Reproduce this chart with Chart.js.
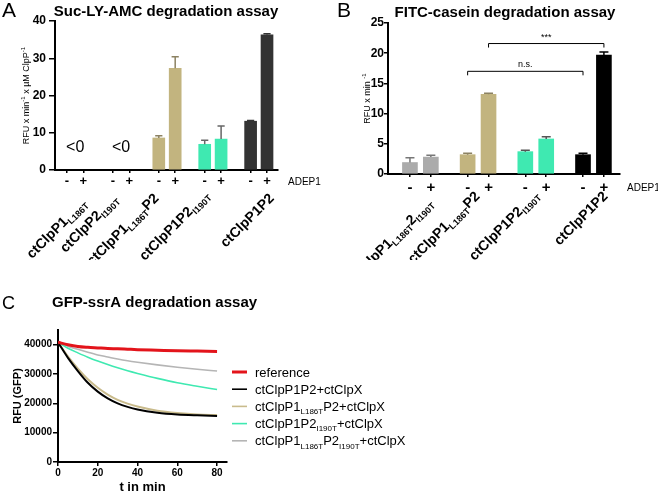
<!DOCTYPE html>
<html>
<head>
<meta charset="utf-8">
<script src="https://cdn.jsdelivr.net/npm/chart.js@4"></script>
<style>
  body { margin: 0; background: #fff; width: 658px; height: 492px; position: relative; overflow: hidden; }
  canvas { position: absolute; }
</style>
</head>
<body>
<canvas id="chartA" width="330" height="260" style="left:0;top:0"></canvas>
<canvas id="chartB" width="328" height="260" style="left:330px;top:0"></canvas>
<canvas id="chartC" width="420" height="232" style="left:0;top:260px"></canvas>
<script>
// ---------- data ----------
const adepSigns = ['-', '+'];

// A: Suc-LY-AMC degradation (RFU x min-1 x uM ClpP-1)
const groupsA = ['ctClpP1_{L186T}', 'ctClpP2_{I190T}', 'ctClpP1_{L186T}P2', 'ctClpP1P2_{I190T}', 'ctClpP1P2'];
const minusA = [null, null, 8.6, 6.9, 13.1];
const plusA = [null, null, 27.3, 8.3, 36.3];
const minusErrA = [null, null, 0.6, 1.1, 0.2];
const plusErrA = [null, null, 3.1, 3.5, 0.3];
const notesA = ['<0', '<0', '', '', ''];

// B: FITC-casein degradation (RFU x min-1)
const groupsB = ['ctClpP1_{L186T}2_{I190T}', 'ctClpP1_{L186T}P2', 'ctClpP1P2_{I190T}', 'ctClpP1P2'];
const minusB = [1.9, 3.2, 3.7, 3.2];
const plusB = [2.8, 13.2, 5.8, 19.7];
const minusErrB = [0.8, 0.25, 0.25, 0.25];
const plusErrB = [0.3, 0.15, 0.35, 0.5];
// [group, sign] pairs compared
const compareB = [
  { from: [1, 0], to: [3, 0], y: 17.0, label: 'n.s.' },
  { from: [1, 1], to: [3, 1], y: 21.6, label: '***' }
];

// C: GFP-ssrA degradation, RFU (GFP) vs time
const timeC = [0, 5, 10, 15, 20, 25, 30, 35, 40, 50, 60, 70, 80];
const namesC = ['reference', 'ctClpP1P2+ctClpX', 'ctClpP1_{L186T}P2+ctClpX',
  'ctClpP1P2_{I190T}+ctClpX', 'ctClpP1_{L186T}P2_{I190T}+ctClpX'];
const referenceC = [40800, 40000, 39400, 39100, 38900, 38700, 38600, 38450, 38300, 38100, 37900, 37800, 37700];
const p1p2C = [40800, 35500, 31000, 27000, 24000, 21700, 20000, 18800, 17900, 16800, 16200, 15900, 15700];
const l186tC = [40800, 36000, 31800, 28200, 25300, 23000, 21200, 19900, 18900, 17500, 16700, 16200, 16000];
const i190tC = [40800, 38800, 37200, 35700, 34400, 33200, 32100, 31100, 30200, 28500, 27000, 25800, 24700];
const doubleC = [40800, 39500, 38400, 37400, 36500, 35800, 35100, 34500, 34000, 33100, 32300, 31600, 31000];
const xTicksC = [0, 20, 40, 60, 80];
const yTicksC = [0, 10000, 20000, 30000, 40000];

// ---------- helpers ----------
const FONT = '"Liberation Sans", Arial, Helvetica, sans-serif';

// 'ctClpP1_{L186T}P2' -> plain / sub / sup pieces
function richParts(s) {
  const parts = [];
  const re = /([_^])\{([^}]*)\}|([^_^]+)/g;
  let m;
  while ((m = re.exec(s)) !== null) {
    if (m[3]) parts.push({ text: m[3], kind: '' });
    else parts.push({ text: m[2], kind: m[1] });
  }
  return parts;
}

function drawRich(ctx, s, x, y, size, weight, align) {
  const parts = richParts(s);
  const fontOf = p => weight + ' ' + (p.kind ? Math.round(size * 0.65) : size) + 'px ' + FONT;
  let total = 0;
  parts.forEach(p => { ctx.font = fontOf(p); p.w = ctx.measureText(p.text).width; total += p.w; });
  let cx = align === 'right' ? x - total : align === 'center' ? x - total / 2 : x;
  ctx.textAlign = 'left';
  ctx.textBaseline = 'alphabetic';
  parts.forEach(p => {
    ctx.font = fontOf(p);
    const dy = p.kind === '_' ? size * 0.25 : p.kind === '^' ? -size * 0.4 : 0;
    ctx.fillText(p.text, cx, y + dy);
    cx += p.w;
  });
}

function axisGrid(len) {
  return { display: true, drawOnChartArea: false, offset: false, tickLength: len, color: '#000', lineWidth: 1.5 };
}
const axisBorder = { display: true, color: '#000', width: 2 };

// ---------- bar panels (A, B) ----------
function barPanel(id, p) {
  const pos = [], vals = [], errs = [], cols = [], errCols = [];
  p.groups.forEach((g, i) => {
    [p.minus[i], p.plus[i]].forEach((v, s) => {
      pos.push(i * p.gap + s);
      vals.push(v);
      errs.push(s ? p.plusErr[i] : p.minusErr[i]);
      cols.push(p.colors[i]);
      errCols.push(p.errColors[i]);
    });
  });
  const canvas = document.getElementById(id);
  const W = canvas.width, H = canvas.height;

  const extras = {
    id: 'extras' + id,
    afterDatasetsDraw(chart) {
      const ctx = chart.ctx, ys = chart.scales.y;
      ctx.save();
      chart.getDatasetMeta(0).data.forEach((bar, k) => {
        if (vals[k] == null || errs[k] == null) return;
        const top = ys.getPixelForValue(vals[k] + errs[k]);
        ctx.strokeStyle = errCols[k];
        ctx.lineWidth = 1.5;
        ctx.beginPath();
        ctx.moveTo(bar.x, bar.y);
        ctx.lineTo(bar.x, top);
        ctx.moveTo(bar.x - bar.width * 0.3, top);
        ctx.lineTo(bar.x + bar.width * 0.3, top);
        ctx.stroke();
      });
      ctx.restore();
    },
    afterDraw(chart) {
      const ctx = chart.ctx, xs = chart.scales.x, ys = chart.scales.y, a = chart.chartArea;
      ctx.save();
      ctx.fillStyle = '#000';
      // panel letter + title
      ctx.font = '21px ' + FONT;
      ctx.textAlign = 'left';
      ctx.fillText(p.letter, p.letterX, 17);
      ctx.font = 'bold 15px ' + FONT;
      ctx.textAlign = 'center';
      ctx.fillText(p.title, p.titleX, p.titleY);
      // y axis label
      ctx.save();
      ctx.translate(p.yLabelX, (a.top + a.bottom) / 2);
      ctx.rotate(-Math.PI / 2);
      drawRich(ctx, p.yLabel, 0, 0, 9, 'normal', 'center');
      ctx.restore();
      // ADEP1
      ctx.font = '10px ' + FONT;
      ctx.textAlign = 'left';
      ctx.fillText('ADEP1', a.right + p.adepDx, p.adepY);
      // notes such as "<0"
      (p.notes || []).forEach((n, i) => {
        if (!n) return;
        ctx.font = '16px ' + FONT;
        ctx.textAlign = 'center';
        ctx.textBaseline = 'middle';
        ctx.fillText(n, xs.getPixelForValue(i * p.gap + 0.5), ys.getPixelForValue(p.noteAt));
        ctx.textBaseline = 'alphabetic';
      });
      // comparison brackets
      (p.compare || []).forEach(c => {
        const x1 = xs.getPixelForValue(c.from[0] * p.gap + c.from[1]);
        const x2 = xs.getPixelForValue(c.to[0] * p.gap + c.to[1]);
        const yb = ys.getPixelForValue(c.y);
        ctx.strokeStyle = '#000';
        ctx.lineWidth = 1;
        ctx.beginPath();
        ctx.moveTo(x1, yb + 4); ctx.lineTo(x1, yb); ctx.lineTo(x2, yb); ctx.lineTo(x2, yb + 4);
        ctx.stroke();
        ctx.font = '9px ' + FONT;
        ctx.textAlign = 'center';
        ctx.fillText(c.label, (x1 + x2) / 2, yb - 4);
      });
      // rotated group labels
      p.groups.forEach((g, i) => {
        const gx = xs.getPixelForValue(i * p.gap + 0.5) + p.labelDx[i];
        ctx.save();
        ctx.translate(gx, p.labelY[i]);
        ctx.rotate(-Math.PI / 4);
        drawRich(ctx, g, 0, 0, 14, 'bold', 'right');
        ctx.restore();
      });
      ctx.restore();
    }
  };

  new Chart(canvas, {
    type: 'bar',
    data: {
      datasets: [{
        data: pos.map((x, k) => ({ x: x, y: vals[k] })),
        backgroundColor: cols,
        borderWidth: 0,
        barThickness: p.barThickness
      }]
    },
    options: {
      responsive: false,
      animation: false,
      layout: { padding: { left: 0, top: p.area.top, right: W - p.area.right, bottom: 0 } },
      plugins: { legend: { display: false }, tooltip: { enabled: false } },
      scales: {
        x: {
          type: 'linear', min: p.xMin, max: p.xMax, offset: false,
          afterBuildTicks: s => { s.ticks = pos.map(v => ({ value: v })); },
          afterFit: s => { s.height = H - p.area.bottom; },
          ticks: {
            autoSkip: false, maxRotation: 0, padding: p.signPad, color: '#000',
            font: { family: FONT, size: p.signSize, weight: 'bold' },
            callback: (v, i) => adepSigns[i % 2]
          },
          grid: axisGrid(3),
          border: axisBorder
        },
        y: {
          min: 0, max: p.yMax,
          afterFit: s => { s.width = p.area.left; },
          ticks: { stepSize: p.yStep, padding: p.yPad, color: '#000', font: { family: FONT, size: 12, weight: 'bold' } },
          grid: axisGrid(p.yTick),
          border: axisBorder
        }
      }
    },
    plugins: [extras]
  });
}

const tan = '#c2b47f', teal = '#3fe9b1';

barPanel('chartA', {
  groups: groupsA, minus: minusA, plus: plusA, minusErr: minusErrA, plusErr: plusErrA,
  notes: notesA, noteAt: 5.9,
  colors: ['#999', '#999', tan, teal, '#333333'],
  errColors: ['#666', '#666', '#8c8262', '#666', '#333'],
  gap: 2.8, xMin: -0.73, xMax: 12.87, yMax: 40, yStep: 10, barThickness: 12,
  area: { left: 55, right: 278, top: 21, bottom: 170 },
  yTick: 6, yPad: 3,
  signSize: 13, signPad: 1,
  letter: 'A', letterX: 2, title: 'Suc-LY-AMC degradation assay', titleX: 166, titleY: 16,
  yLabel: 'RFU x min^{-1} x \u00b5M ClpP^{-1}', yLabelX: 29,
  adepDx: 10, adepY: 185,
  labelDx: [12, -2.5, -7.5, -3, 16], labelY: [204, 200, 199, 196, 199]
});

barPanel('chartB', {
  groups: groupsB, minus: minusB, plus: plusB, minusErr: minusErrB, plusErr: plusErrB,
  compare: compareB,
  colors: ['#ababab', tan, teal, '#000000'],
  errColors: ['#777', '#8c8262', '#555', '#000'],
  gap: 2.76, xMin: -1.05, xMax: 10.05, yMax: 25, yStep: 5, barThickness: 15,
  area: { left: 58, right: 290, top: 23, bottom: 174 },
  yTick: 4, yPad: 0,
  signSize: 15, signPad: 2,
  letter: 'B', letterX: 7, title: 'FITC-casein degradation assay', titleX: 175, titleY: 17,
  yLabel: 'RFU x min ^{-1}', yLabelX: 40,
  adepDx: 7, adepY: 191,
  labelDx: [13, 2.5, 4, 15], labelY: [204, 197, 196, 197]
});

// ---------- line panel (C) ----------
const seriesC = [referenceC, p1p2C, l186tC, i190tC, doubleC];
const lineColorsC = ['#e3141b', '#000000', '#c9bb8c', '#3fe9b1', '#b5b5b5'];
const lineWidthsC = [3, 2, 2, 1.6, 1.6];

const extrasC = {
  id: 'extrasC',
  afterDraw(chart) {
    const ctx = chart.ctx, a = chart.chartArea;
    ctx.save();
    ctx.fillStyle = '#000';
    ctx.font = '18px ' + FONT;
    ctx.textAlign = 'left';
    ctx.fillText('C', 2, 49);
    ctx.font = 'bold 15px ' + FONT;
    ctx.fillText('GFP-ssrA degradation assay', 52, 47);
    ctx.font = 'bold 13px ' + FONT;
    ctx.textAlign = 'center';
    ctx.fillText('t in min', (a.left + a.right) / 2, 231);
    ctx.save();
    ctx.translate(21, (a.top + a.bottom) / 2);
    ctx.rotate(-Math.PI / 2);
    ctx.font = 'bold 11px ' + FONT;
    ctx.fillText('RFU (GFP)', 0, 0);
    ctx.restore();
    // legend
    namesC.forEach((n, k) => {
      const y = 112 + k * 17.2;
      ctx.strokeStyle = lineColorsC[k];
      ctx.lineWidth = k === 0 ? 3 : 1.6;
      ctx.beginPath();
      ctx.moveTo(232, y);
      ctx.lineTo(247, y);
      ctx.stroke();
      ctx.fillStyle = '#000';
      drawRich(ctx, n, 255, y + 4.5, 13, 'normal', 'left');
    });
    ctx.restore();
  }
};

new Chart(document.getElementById('chartC'), {
  type: 'line',
  data: {
    datasets: seriesC.map((vals, k) => ({
      label: namesC[k],
      data: timeC.map((t, j) => ({ x: t, y: vals[j] })),
      borderColor: lineColorsC[k],
      borderWidth: lineWidthsC[k],
      pointRadius: 0,
      cubicInterpolationMode: 'monotone',
      fill: false
    }))
  },
  options: {
    responsive: false,
    animation: false,
    layout: { padding: { left: 0, top: 70, right: 420 - 227, bottom: 0 } },
    plugins: { legend: { display: false }, tooltip: { enabled: false } },
    scales: {
      x: {
        type: 'linear', min: 0, max: 85,
        afterBuildTicks: s => { s.ticks = xTicksC.map(v => ({ value: v })); },
        afterFit: s => { s.height = 30; },
        ticks: { padding: 1, maxRotation: 0, color: '#000', font: { family: FONT, size: 10, weight: 'bold' }, callback: v => String(v) },
        grid: axisGrid(4),
        border: axisBorder
      },
      y: {
        min: 0, max: 45000,
        afterBuildTicks: s => { s.ticks = yTicksC.map(v => ({ value: v })); },
        afterFit: s => { s.width = 58; },
        ticks: { padding: 1, color: '#000', font: { family: FONT, size: 10, weight: 'bold' }, callback: v => String(v) },
        grid: axisGrid(5),
        border: axisBorder
      }
    }
  },
  plugins: [extrasC]
});
</script>
</body>
</html>
